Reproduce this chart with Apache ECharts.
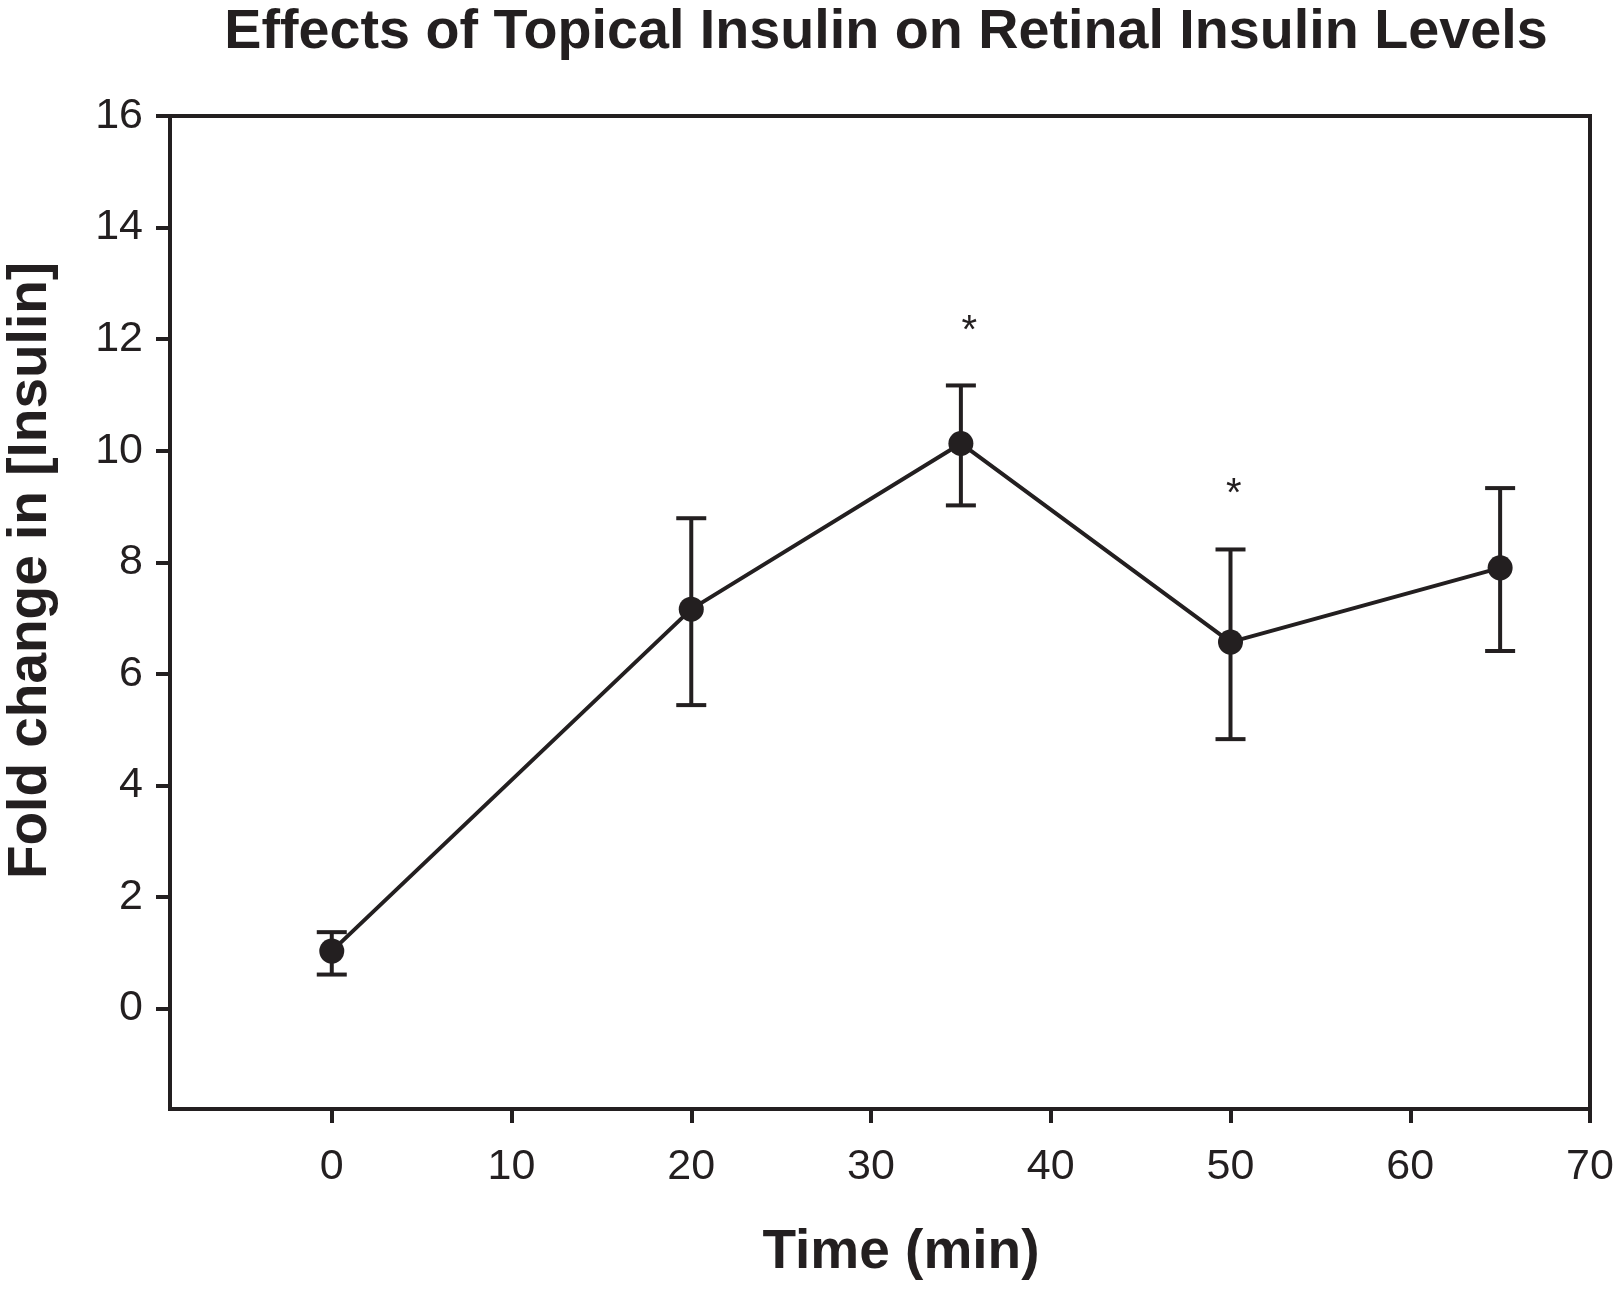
<!DOCTYPE html>
<html>
<head>
<meta charset="utf-8">
<script src="https://cdn.jsdelivr.net/npm/echarts@6/dist/echarts.min.js"></script>
<style>
html,body{margin:0;padding:0;background:#fff;}
#chart{width:1619px;height:1295px;}
</style>
</head>
<body>
<div id="chart"></div>
<script>
// Data
var times = [0, 20, 35, 50, 65];
var means = [1.03, 7.16, 10.13, 6.57, 7.90];
var upper = [1.37, 8.79, 11.17, 8.23, 9.33];
var lower = [0.61, 5.44, 9.02, 4.83, 6.41];
var starTimes = [35.47, 50.18];
var starValues = [12.29, 9.36];
var xTicks = [0, 10, 20, 30, 40, 50, 60, 70];
var yTicks = [0, 2, 4, 6, 8, 10, 12, 14, 16];

var ink = '#231f20';
var font = "'Liberation Sans', Arial, Helvetica, sans-serif";

var lineData = times.map(function (t, i) { return [t, means[i]]; });
var errData = times.map(function (t, i) { return [t, lower[i], upper[i]]; });
var starData = starTimes.map(function (t, i) { return [t, starValues[i]]; });

var chart = echarts.init(document.getElementById('chart'));
chart.setOption({
  backgroundColor: '#fff',
  animation: false,
  title: {
    text: 'Effects of Topical Insulin on Retinal Insulin Levels',
    left: 881,
    textAlign: 'center',
    top: 0,
    textStyle: { fontFamily: font, fontWeight: 'bold', fontSize: 55.7, color: ink }
  },
  grid: {
    left: 170, right: 29, top: 116, bottom: 186,
    containLabel: false,
    outerBoundsMode: 'none',
    show: true, borderColor: ink, borderWidth: 4, backgroundColor: 'transparent'
  },
  xAxis: {
    type: 'value',
    min: -9, max: 70,
    name: 'Time (min)',
    nameLocation: 'middle',
    nameGap: 116,
    nameTextStyle: { fontFamily: font, fontWeight: 'bold', fontSize: 55, color: ink, padding: [0, 0, 0, 42] },
    axisLine: { show: true, onZero: false, lineStyle: { color: ink, width: 4 } },
    axisTick: { show: true, customValues: xTicks, length: 14, inside: false, lineStyle: { color: ink, width: 4 } },
    axisLabel: { customValues: xTicks, margin: 37, fontFamily: font, fontSize: 43, color: ink },
    splitLine: { show: false }
  },
  yAxis: {
    type: 'value',
    min: -1.8, max: 16,
    name: 'Fold change in [Insulin]',
    nameLocation: 'middle',
    nameGap: 112,
    nameTextStyle: { fontFamily: font, fontWeight: 'bold', fontSize: 55, color: ink, padding: [0, 0, 0, 84] },
    axisLine: { show: true, onZero: false, lineStyle: { color: ink, width: 4 } },
    axisTick: { show: true, customValues: yTicks, length: 14, inside: false, lineStyle: { color: ink, width: 4 } },
    axisLabel: { customValues: yTicks, margin: 27, fontFamily: font, fontSize: 43, color: ink },
    splitLine: { show: false }
  },
  series: [
    {
      type: 'custom',
      name: 'error',
      data: errData,
      z: 3,
      renderItem: function (params, api) {
        var x = api.value(0);
        var lo = api.coord([x, api.value(1)]);
        var hi = api.coord([x, api.value(2)]);
        var cap = 15;
        var st = { stroke: ink, lineWidth: 4 };
        return {
          type: 'group',
          children: [
            { type: 'line', shape: { x1: lo[0], y1: lo[1], x2: hi[0], y2: hi[1] }, style: st },
            { type: 'line', shape: { x1: hi[0] - cap, y1: hi[1], x2: hi[0] + cap, y2: hi[1] }, style: st },
            { type: 'line', shape: { x1: lo[0] - cap, y1: lo[1], x2: lo[0] + cap, y2: lo[1] }, style: st }
          ]
        };
      }
    },
    {
      type: 'line',
      name: 'mean',
      data: lineData,
      z: 4,
      symbol: 'circle',
      symbolSize: 25,
      lineStyle: { color: ink, width: 4 },
      itemStyle: { color: ink, borderWidth: 0 }
    },
    {
      type: 'custom',
      name: 'stars',
      data: starData,
      z: 5,
      renderItem: function (params, api) {
        var p = api.coord([api.value(0), api.value(1)]);
        return {
          type: 'text',
          x: p[0], y: p[1] + 9,
          style: { text: '*', fontFamily: font, fontSize: 40, fill: ink, align: 'center', verticalAlign: 'middle' }
        };
      }
    }
  ]
});
</script>
</body>
</html>
